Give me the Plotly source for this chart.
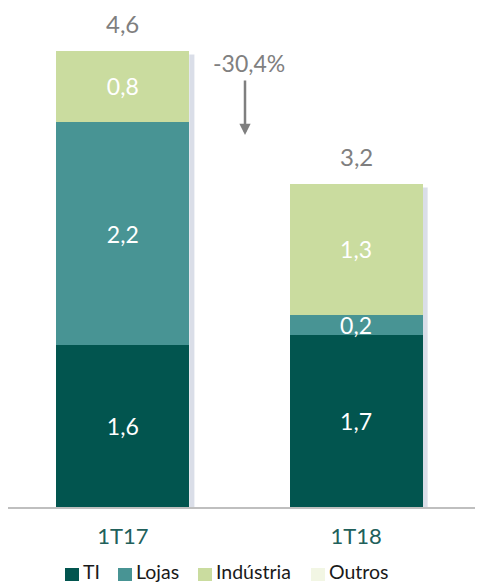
import plotly.graph_objects as go

categories = ["1T17", "1T18"]
ti = [1.63, 1.73]
lojas = [2.25, 0.21]
industria = [0.72, 1.32]
outros = [0.0, 0.0]
ti_labels = ["1,6", "1,7"]
lojas_labels = ["2,2", "0,2"]
industria_labels = ["0,8", "1,3"]
total_labels = ["4,6", "3,2"]
change_label = "-30,4%"
series_names = ["TI", "Lojas", "Indústria", "Outros"]

colors = {"TI": "#02554f", "Lojas": "#489494", "Indústria": "#cadc9f", "Outros": "#f2f6e4"}
FONT = "Lato"
BAR_W = 0.57

# page body has an 8px margin, so the figure sits at (8, 8) in the window
OFF = 8
W, H = 483 - OFF, 584 - OFF
ML, MR, MT, MB = 0, 1, 12, 77
PW, PH = W - ML - MR, H - MT - MB


def px(xp):
    return (xp - OFF - ML) / PW


def py(yp):
    return (H - MB - (yp - OFF)) / PH


fig = go.Figure()
for name, vals, labels in [("TI", ti, ti_labels), ("Lojas", lojas, lojas_labels),
                           ("Indústria", industria, industria_labels), ("Outros", outros, None)]:
    fig.add_trace(go.Bar(
        name=name, x=categories, y=vals, width=BAR_W,
        marker=dict(color=colors[name], line=dict(width=0)),
        text=labels, textposition="inside" if labels else "none",
        insidetextanchor="middle", textangle=0, constraintext="none",
        textfont=dict(family=FONT, size=23, color="white"),
        hoverinfo="skip", showlegend=False,
    ))

totals = [a + b + c + d for a, b, c, d in zip(ti, lojas, industria, outros)]

shapes = []
for i, t in enumerate(totals):
    shapes.append(dict(type="rect", xref="x", yref="y", layer="below",
                       x0=i + BAR_W / 2, x1=i + BAR_W / 2 + 0.022, y0=0, y1=t - 0.04,
                       fillcolor="rgba(150,160,190,0.35)", line=dict(width=0)))

annotations = []
for i, (t, lab) in enumerate(zip(totals, total_labels)):
    annotations.append(dict(x=categories[i], y=t, xref="x", yref="y", text=lab,
                            showarrow=False, yanchor="middle", yshift=27,
                            font=dict(family=FONT, size=24, color="#7f7f7f")))
annotations.append(dict(x=px(249), y=py(47), xref="paper", yref="paper", text=change_label,
                        showarrow=False, font=dict(family=FONT, size=23, color="#808080")))
annotations.append(dict(x=px(245), y=py(135), xref="paper", yref="paper", text="",
                        showarrow=True, ax=0, ay=-56, arrowhead=2, arrowsize=0.9,
                        arrowwidth=2.5, arrowcolor="#7f7f7f"))

# legend (drawn manually to match spacing)
legend_sq_x = [65, 118, 198, 311]
for name, sx in zip(series_names, legend_sq_x):
    shapes.append(dict(type="rect", xref="paper", yref="paper",
                       x0=px(sx), x1=px(sx + 14), y0=py(581), y1=py(568),
                       fillcolor=colors[name], line=dict(width=0)))
    annotations.append(dict(x=px(sx + 17), y=py(584), xref="paper", yref="paper",
                            text=name, showarrow=False, xanchor="left", yanchor="bottom",
                            borderpad=0,
                            font=dict(family=FONT, size=19.5, color="#1a1a1a")))

fig.update_layout(
    barmode="stack",
    width=W, height=H,
    margin=dict(l=ML, r=MR, t=MT, b=MB, autoexpand=False),
    paper_bgcolor="white", plot_bgcolor="white",
    showlegend=False,
    xaxis=dict(range=[-0.492, 1.540], showline=True, linecolor="#bfbfbf", linewidth=1.5,
               showgrid=False, ticks="", ticklabelstandoff=9,
               tickfont=dict(family=FONT, size=22, color="#21605b")),
    yaxis=dict(range=[0, 4.909], visible=False, showgrid=False),
    shapes=shapes, annotations=annotations,
)

fig.write_html("out.html")
